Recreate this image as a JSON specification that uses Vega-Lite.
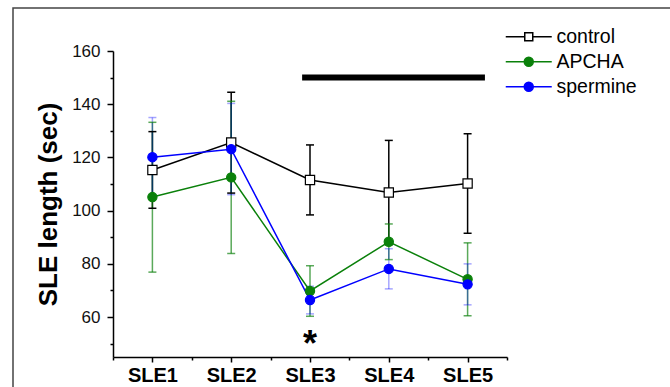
{
  "$schema": "https://vega.github.io/schema/vega-lite/v6.json",
  "autosize": "none",
  "width": 660,
  "height": 382,
  "padding": {"left": 13, "top": 8, "right": 0, "bottom": 0},
  "background": "white",
  "config": {
    "view": {"stroke": "#444", "strokeWidth": 1.5},
    "font": "Liberation Sans"
  },
  "datasets": {
    "stats": [
      {"group": "control", "n": 1, "mean": 115.3, "lo": 100.9, "hi": 129.7},
      {"group": "control", "n": 2, "mean": 125.6, "lo": 106.6, "hi": 144.5},
      {"group": "control", "n": 3, "mean": 111.5, "lo": 98.4, "hi": 124.7},
      {"group": "control", "n": 4, "mean": 106.8, "lo": 87.2, "hi": 126.4},
      {"group": "control", "n": 5, "mean": 110.2, "lo": 91.5, "hi": 128.9},
      {"group": "APCHA", "n": 1, "mean": 105.1, "lo": 76.9, "hi": 133.2},
      {"group": "APCHA", "n": 2, "mean": 112.5, "lo": 83.9, "hi": 141.1},
      {"group": "APCHA", "n": 3, "mean": 69.8, "lo": 60.3, "hi": 79.3},
      {"group": "APCHA", "n": 4, "mean": 88.3, "lo": 81.6, "hi": 95.0},
      {"group": "APCHA", "n": 5, "mean": 74.2, "lo": 60.5, "hi": 87.9},
      {"group": "spermine", "n": 1, "mean": 120.1, "lo": 105.2, "hi": 135.0},
      {"group": "spermine", "n": 2, "mean": 123.1, "lo": 106.0, "hi": 140.3},
      {"group": "spermine", "n": 3, "mean": 66.4, "lo": 61.2, "hi": 71.6},
      {"group": "spermine", "n": 4, "mean": 78.1, "lo": 70.6, "hi": 85.7},
      {"group": "spermine", "n": 5, "mean": 72.3, "lo": 64.6, "hi": 80.0}
    ],
    "sigbar": [{"x1": 2.9, "x2": 5.22, "y": 150}],
    "mark": [{"n": 3, "y": 49.6, "label": "*"}]
  },
  "resolve": {
    "scale": {"shape": "independent", "fill": "independent", "stroke": "independent"},
    "axis": {"x": "independent", "y": "independent"}
  },
  "layer": [
    {
      "data": {"name": "stats"},
      "mark": {"type": "rule", "strokeWidth": 1.5},
      "encoding": {
        "x": {
          "field": "n", "type": "quantitative",
          "scale": {"domain": [0.5, 5.5], "range": [100, 494], "nice": false, "zero": false},
          "axis": {
            "orient": "bottom",
            "values": [1, 2, 3, 4, 5],
            "labelExpr": "'SLE' + datum.value",
            "offset": -33,
            "title": null,
            "grid": false,
            "domainColor": "#000", "domainWidth": 1.5,
            "tickColor": "#000", "tickWidth": 1.5, "tickSize": 5,
            "labelFont": "Liberation Sans", "labelFontSize": 20, "labelFontWeight": "bold",
            "labelColor": "#000", "labelPadding": 3, "labelFlush": false, "labelOverlap": false
          }
        },
        "y": {
          "field": "lo", "type": "quantitative",
          "scale": {"domain": [45, 160], "range": [349, 43], "nice": false, "zero": false},
          "axis": {
            "orient": "left",
            "values": [60, 80, 100, 120, 140, 160],
            "offset": -100,
            "title": "SLE length (sec)",
            "titleFont": "Liberation Sans", "titleFontSize": 26, "titleFontWeight": "bold",
            "titleColor": "#000", "titlePadding": 10,
            "grid": false,
            "domainColor": "#000", "domainWidth": 1.5,
            "tickColor": "#000", "tickWidth": 1.5, "tickSize": 6,
            "labelFont": "Liberation Sans", "labelFontSize": 17, "labelColor": "#111",
            "labelPadding": 7, "labelOverlap": false, "labelFlush": false
          }
        },
        "y2": {"field": "hi"},
        "stroke": {
          "field": "group", "type": "nominal",
          "scale": {"domain": ["control", "APCHA", "spermine"], "range": ["#000000", "#0a800a", "#0000ff"]},
          "legend": null
        },
        "opacity": {
          "field": "group", "type": "nominal",
          "scale": {"domain": ["control", "APCHA", "spermine"], "range": [1, 0.35, 0.35]},
          "legend": null
        }
      }
    },
    {
      "data": {"name": "stats"},
      "transform": [{"fold": ["lo", "hi"], "as": ["end", "val"]}],
      "mark": {"type": "tick", "orient": "horizontal", "size": 8, "thickness": 1.5},
      "encoding": {
        "x": {
          "field": "n", "type": "quantitative",
          "axis": {
            "orient": "bottom",
            "values": [0.5, 1.5, 2.5, 3.5, 4.5, 5.5],
            "offset": -33, "title": null, "grid": false, "labels": false, "domain": false,
            "tickColor": "#000", "tickWidth": 1.5, "tickSize": 3
          }
        },
        "y": {
          "field": "val", "type": "quantitative",
          "axis": {
            "orient": "left",
            "values": [50, 70, 90, 110, 130, 150],
            "offset": -100, "title": null, "grid": false, "labels": false, "domain": false,
            "tickColor": "#000", "tickWidth": 1.5, "tickSize": 3
          }
        },
        "color": {
          "field": "group", "type": "nominal",
          "scale": {"domain": ["control", "APCHA", "spermine"], "range": ["#000000", "#0a800a", "#0000ff"]},
          "legend": null
        },
        "opacity": {"field": "group", "type": "nominal", "legend": null}
      }
    },
    {
      "data": {"name": "stats"},
      "mark": {"type": "line", "strokeWidth": 1.5},
      "encoding": {
        "x": {"field": "n", "type": "quantitative", "axis": null},
        "y": {"field": "mean", "type": "quantitative", "axis": null},
        "stroke": {
          "field": "group", "type": "nominal",
          "scale": {"domain": ["control", "APCHA", "spermine"], "range": ["#000000", "#0a800a", "#0000ff"]},
          "legend": null
        },
        "detail": {"field": "group"}
      }
    },
    {
      "data": {"name": "stats"},
      "mark": {"type": "point", "filled": false, "strokeWidth": 1.2, "opacity": 1},
      "encoding": {
        "x": {"field": "n", "type": "quantitative", "axis": null},
        "y": {"field": "mean", "type": "quantitative", "axis": null},
        "shape": {
          "field": "group", "type": "nominal",
          "scale": {"domain": ["control", "APCHA", "spermine"], "range": ["square", "circle", "circle"]},
          "legend": null
        },
        "fill": {
          "field": "group", "type": "nominal",
          "scale": {"domain": ["control", "APCHA", "spermine"], "range": ["#ffffff", "#0a800a", "#0000ff"]},
          "legend": null
        },
        "stroke": {
          "field": "group", "type": "nominal",
          "scale": {"domain": ["control", "APCHA", "spermine"], "range": ["#000000", "#0a800a", "#0000ff"]},
          "legend": null
        },
        "size": {"value": 85}
      }
    },
    {
      "data": {"name": "sigbar"},
      "mark": {"type": "rule", "strokeWidth": 6, "color": "#000", "strokeCap": "butt"},
      "encoding": {
        "x": {"field": "x1", "type": "quantitative", "axis": null},
        "x2": {"field": "x2"},
        "y": {"field": "y", "type": "quantitative", "axis": null}
      }
    },
    {
      "data": {"name": "mark"},
      "mark": {"type": "text", "font": "Liberation Sans", "fontSize": 36, "fontWeight": "bold", "baseline": "middle", "align": "center", "color": "#000"},
      "encoding": {
        "x": {"field": "n", "type": "quantitative", "axis": null},
        "y": {"field": "y", "type": "quantitative", "axis": null},
        "text": {"field": "label"}
      }
    },
    {
      "data": {"name": "stats"},
      "transform": [{"filter": "datum.n > 99"}],
      "mark": {"type": "point", "filled": true, "strokeWidth": 1.5, "opacity": 1},
      "encoding": {
        "fill": {
          "field": "group", "type": "nominal",
          "scale": {"domain": ["control", "APCHA", "spermine"], "range": ["#ffffff", "#0a800a", "#0000ff"]},
          "legend": {
            "orient": "none", "legendX": 506, "legendY": 19,
            "title": null, "padding": 0,
            "labelFont": "Liberation Sans", "labelFontSize": 19.5, "labelColor": "#000",
            "labelOffset": 18, "rowPadding": 4,
            "symbolSize": 100, "symbolStrokeWidth": 1.5
          }
        },
        "stroke": {
          "field": "group", "type": "nominal",
          "scale": {"domain": ["control", "APCHA", "spermine"], "range": ["#000000", "#0a800a", "#0000ff"]},
          "legend": {"orient": "none", "legendX": 506, "legendY": 19, "title": null}
        },
        "shape": {
          "field": "group", "type": "nominal",
          "scale": {
            "domain": ["control", "APCHA", "spermine"],
            "range": [
              "M-4.6,0H-0.8M0.8,0H4.6M-0.8,-0.8H0.8V0.8H-0.8Z",
              "M-4.6,0H-0.9M0.9,0H4.6M-0.9,0A0.9,0.9,0,1,0,0.9,0A0.9,0.9,0,1,0,-0.9,0Z",
              "M-4.6,0H-0.9M0.9,0H4.6M-0.9,0A0.9,0.9,0,1,0,0.9,0A0.9,0.9,0,1,0,-0.9,0Z"
            ]
          },
          "legend": {"orient": "none", "legendX": 506, "legendY": 19, "title": null}
        },
        "size": {"value": 100}
      }
    }
  ]
}
